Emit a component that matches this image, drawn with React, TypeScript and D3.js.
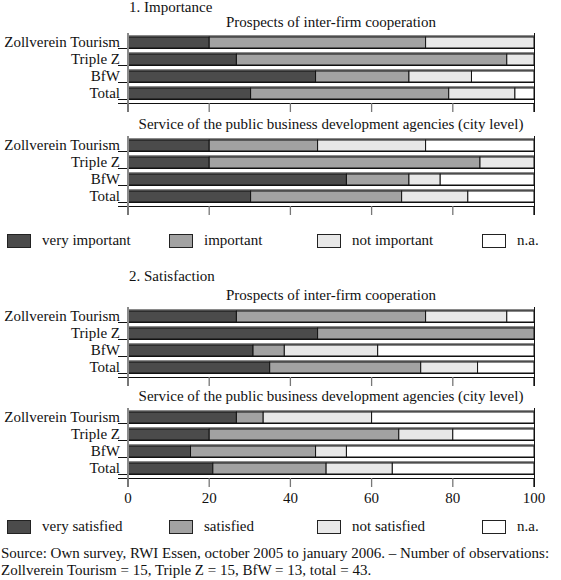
import React from "react";
import * as d3 from "d3";

const categories = ["Zollverein Tourism", "Triple Z", "BfW", "Total"];

// [very, middle, not, n.a.] in percent
const impProspects = [
  [20, 53.3, 26.7, 0],
  [26.7, 66.6, 6.7, 0],
  [46.2, 23.0, 15.4, 15.4],
  [30.2, 48.8, 16.3, 4.7],
];
const impService = [
  [20, 26.7, 26.6, 26.7],
  [20, 66.7, 13.3, 0],
  [53.8, 15.4, 7.7, 23.1],
  [30.2, 37.2, 16.3, 16.3],
];
const satProspects = [
  [26.7, 46.6, 20, 6.7],
  [46.7, 53.3, 0, 0],
  [30.8, 7.7, 23.0, 38.5],
  [34.9, 37.2, 14.0, 13.9],
];
const satService = [
  [26.7, 6.6, 26.7, 40],
  [20, 46.7, 13.3, 20],
  [15.4, 30.8, 7.6, 46.2],
  [20.9, 27.9, 16.3, 34.9],
];

const importanceLabels = ["very important", "important", "not important", "n.a."];
const satisfactionLabels = ["very satisfied", "satisfied", "not satisfied", "n.a."];
const xTicks = [0, 20, 40, 60, 80, 100];
const titleProspects = "Prospects of inter-firm cooperation";
const titleService = "Service of the public business development agencies (city level)";

const fills = ["#4b4b4b", "#a2a2a2", "#e8e8e8", "#ffffff"];
const FONT = "'Liberation Serif', 'Times New Roman', serif";

const x = d3.scaleLinear().domain([0, 100]).range([128, 534]);
const band = d3.scaleBand<string>().domain(categories).range([0, 68]).padding(0);

function Panel({ y0, title, data, showLabels, titleOffset }: { y0: number; title: string; data: number[][]; showLabels: boolean; titleOffset: number }) {
  const axisY = y0 + 68;
  return (
    <g>
      <text x={(x(0) + x(100)) / 2} y={y0 - titleOffset} textAnchor="middle" fontSize={15}>{title}</text>
      {categories.map((c, i) => {
        const top = y0 + (band(c) as number) + 2;
        const h = 11;
        const stack = d3.cumsum(data[i]);
        return (
          <g key={c}>
            <line x1={x(0)} x2={x(100)} y1={top - 1} y2={top - 1} stroke="#8a8a8a" strokeWidth={2} />
            {data[i].map((v, k) => {
              if (v <= 0) return null;
              const start = k === 0 ? 0 : stack[k - 1];
              return (
                <rect key={k} x={x(start)} y={top} width={x(start + v) - x(start)} height={h}
                  fill={fills[k]} stroke="#111" strokeWidth={1} />
              );
            })}
            <line x1={118} x2={x(100)} y1={top + h + 0.5} y2={top + h + 0.5} stroke="#111" strokeWidth={1} />
            <text x={120} y={top + 10} textAnchor="end" fontSize={15}>{c}</text>
          </g>
        );
      })}
      <line x1={118} x2={x(100)} y1={axisY + 0.5} y2={axisY + 0.5} stroke="#111" strokeWidth={1} />
      <line x1={x(0)} x2={x(0)} y1={y0 - 2} y2={axisY + 9} stroke="#8a8a8a" strokeWidth={2} />
      <line x1={x(100) + 0.5} x2={x(100) + 0.5} y1={y0 - 2} y2={axisY + 9} stroke="#111" strokeWidth={1} />
      {xTicks.map((t) => (
        <g key={t}>
          <line x1={x(t)} x2={x(t)} y1={axisY} y2={axisY + 9} stroke={t === 100 ? "#111" : "#777"} strokeWidth={t === 0 ? 2 : 1.3} />
          {showLabels && (
            <text x={x(t)} y={axisY + 25} textAnchor="middle" fontSize={15}>{t}</text>
          )}
        </g>
      ))}
    </g>
  );
}

function Legend({ y, labels }: { y: number; labels: string[] }) {
  const sx = [7, 169, 317, 482];
  return (
    <g>
      {labels.map((l, i) => (
        <g key={l}>
          <rect x={sx[i] + 0.5} y={y + 0.5} width={23} height={13} fill={fills[i]} stroke="#222" strokeWidth={1} />
          <text x={sx[i] + 35} y={y + 11} fontSize={15}>{l}</text>
        </g>
      ))}
    </g>
  );
}

export default function App() {
  return (
    <svg width={561} height={580} style={{ position: "absolute", left: 0, top: 0, background: "#fff" }}
      fontFamily={FONT} fill="#111">
      <text x={129} y={12} fontSize={15}>1. Importance</text>
      <Panel y0={35} title={titleProspects} data={impProspects} showLabels={false} titleOffset={8} />
      <Panel y0={138} title={titleService} data={impService} showLabels={false} titleOffset={9} />
      <Legend y={234} labels={importanceLabels} />
      <text x={129} y={281} fontSize={15}>2. Satisfaction</text>
      <Panel y0={309} title={titleProspects} data={satProspects} showLabels={false} titleOffset={9} />
      <Panel y0={410} title={titleService} data={satService} showLabels={true} titleOffset={9} />
      <Legend y={520} labels={satisfactionLabels} />
      <text x={1} y={558} fontSize={15}>Source: Own survey, RWI Essen, october 2005 to january 2006. – Number of observations:</text>
      <text x={1} y={575} fontSize={15}>Zollverein Tourism = 15, Triple Z = 15, BfW = 13, total = 43.</text>
    </svg>
  );
}
